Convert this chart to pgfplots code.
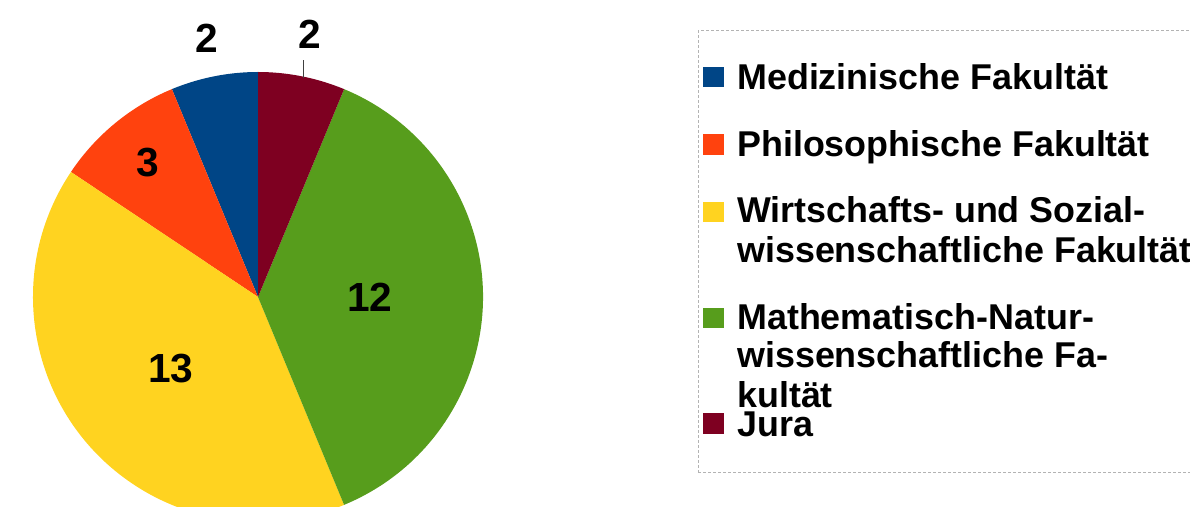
\documentclass[border=0pt]{standalone}
\usepackage{pgfplots}
\pgfplotsset{compat=1.18}
\usepackage{pgfplotstable}
\usepackage{fontspec}
\setmainfont{Liberation Sans}

\definecolor{pieblue}{HTML}{004586}
\definecolor{pieorange}{HTML}{FF420E}
\definecolor{pieyellow}{HTML}{FFD320}
\definecolor{piegreen}{HTML}{579D1C}
\definecolor{piemaroon}{HTML}{7E0021}
\definecolor{legframe}{HTML}{B3B3B3}

\tikzset{
  lab/.style={font=\fontsize{30.5}{36}\selectfont\bfseries, text=black, inner sep=0pt},
  leg/.style={font=\fontsize{26.9}{31}\selectfont\bfseries, text=black, inner sep=0pt, anchor=base west},
}

\pgfplotstableread{
faculty value
Medizinische 2
Philosophische 3
WiSo 13
MatNat 12
Jura 2
}\piedata

\pgfplotstablegetelem{0}{value}\of\piedata\let\vA\pgfplotsretval
\pgfplotstablegetelem{1}{value}\of\piedata\let\vB\pgfplotsretval
\pgfplotstablegetelem{2}{value}\of\piedata\let\vC\pgfplotsretval
\pgfplotstablegetelem{3}{value}\of\piedata\let\vD\pgfplotsretval
\pgfplotstablegetelem{4}{value}\of\piedata\let\vE\pgfplotsretval

\pgfmathsetmacro\tot{\vA+\vB+\vC+\vD+\vE}
\pgfmathsetmacro\aA{90}
\pgfmathsetmacro\aB{\aA+360*\vA/\tot}
\pgfmathsetmacro\aC{\aB+360*\vB/\tot}
\pgfmathsetmacro\aD{\aC+360*\vC/\tot}
\pgfmathsetmacro\aE{\aD+360*\vD/\tot}
\pgfmathsetmacro\aF{\aE+360*\vE/\tot}
\pgfmathsetmacro\mA{(\aA+\aB)/2}
\pgfmathsetmacro\mB{(\aB+\aC)/2}
\pgfmathsetmacro\mC{(\aC+\aD)/2}
\pgfmathsetmacro\mD{(\aD+\aE)/2}
\pgfmathsetmacro\mE{(\aE+\aF)/2}

% pie radius: 225 px = 168.75pt
\newcommand\sector[3]{\fill[#1] (axis cs:258,210) -- ++(#2:168.75pt) arc[start angle=#2, end angle=#3, radius=168.75pt] -- cycle;}

\begin{document}
\begin{tikzpicture}[x=0.75pt,y=0.75pt]
\path[use as bounding box] (0,0) rectangle (1190,507);
\clip (0,0) rectangle (1190,507);
\begin{axis}[
  at={(0,0)}, anchor=south west,
  width=892.5pt, height=380.25pt, scale only axis,
  xmin=0, xmax=1190, ymin=0, ymax=507,
  hide axis,
]
% pie slices (counter-clockwise from the top, in table order)
\sector{pieblue}{\aA}{\aB}
\sector{pieorange}{\aB}{\aC}
\sector{pieyellow}{\aC}{\aD}
\sector{piegreen}{\aD}{\aE}
\sector{piemaroon}{\aE}{\aF}

% value labels
\path (axis cs:258,210) ++(\mA:198pt) node[lab]{\vA};
\path (axis cs:258,210) ++(\mB:130.5pt) node[lab]{\vB};
\path (axis cs:258,210) ++(\mC:84.75pt) node[lab]{\vC};
\path (axis cs:258,210) ++(\mD:84pt) node[lab]{\vD};
\path (axis cs:258,210) ++(\mE:201pt) node[lab]{\vE};
\draw[black!75, line width=0.75pt] (axis cs:303,429) -- (axis cs:303,447);

% legend
\draw[legframe, line width=0.75pt, dash pattern=on 2.25pt off 1.5pt] (axis cs:698,34) rectangle (axis cs:1200,476);
\fill[pieblue]   (axis cs:703,420) rectangle (axis cs:724,440);
\fill[pieorange] (axis cs:703,352) rectangle (axis cs:724,373);
\fill[pieyellow] (axis cs:703,285) rectangle (axis cs:724,305);
\fill[piegreen]  (axis cs:703,179) rectangle (axis cs:724,199);
\fill[piemaroon] (axis cs:703,73)  rectangle (axis cs:724,94);
\node[leg] at (axis cs:737,417) {Medizinische Fakultät};
\node[leg] at (axis cs:737,350) {Philosophische Fakultät};
\node[leg] at (axis cs:737,284) {Wirtschafts- und Sozial-};
\node[leg] at (axis cs:737,244) {wissenschaftliche Fakultät};
\node[leg] at (axis cs:737,177) {Mathematisch-Natur-};
\node[leg] at (axis cs:737,139) {wissenschaftliche Fa-};
\node[leg] at (axis cs:737,99)  {kultät};
\node[leg] at (axis cs:737,70)  {Jura};
\end{axis}
\end{tikzpicture}
\end{document}
